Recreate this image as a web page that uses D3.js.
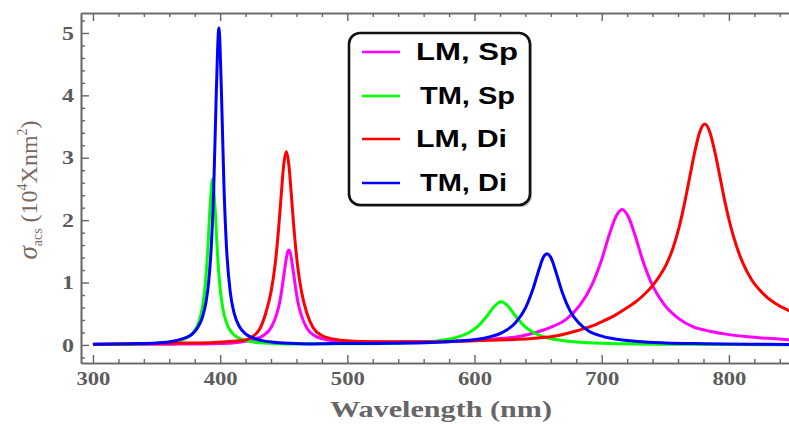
<!DOCTYPE html>
<html>
<head>
<meta charset="utf-8">
<script src="https://cdn.jsdelivr.net/npm/d3@7"></script>
<style>
  html, body { margin: 0; padding: 0; background: #fff; overflow: hidden; }
  svg { display: block; }
</style>
</head>
<body>
<svg id="chart" width="789" height="424"></svg>
<script>
// Scattering cross section spectra, sigma_acs in units of 10^4 nm^2, vs wavelength in nm.

// LM, Sp
const lmSpWavelength = [300, 340, 370, 395, 410, 420, 428, 434, 440, 444, 447, 449, 451, 453, 454, 455, 457, 459, 461, 464, 468, 474, 480, 490, 505, 530, 560, 590, 615, 635, 650, 662, 672, 683, 692, 700, 706, 711, 716, 721, 726, 732, 740, 749, 760, 772, 785, 800, 815, 830, 850];
const lmSpValues     = [0.005, 0.01, 0.013, 0.02, 0.03, 0.057, 0.095, 0.15, 0.275, 0.465, 0.70, 0.96, 1.25, 1.485, 1.52, 1.485, 1.25, 0.96, 0.70, 0.465, 0.275, 0.15, 0.10, 0.066, 0.05, 0.045, 0.05, 0.065, 0.095, 0.135, 0.21, 0.30, 0.41, 0.64, 0.95, 1.37, 1.77, 2.05, 2.17, 2.05, 1.77, 1.37, 0.95, 0.65, 0.43, 0.29, 0.22, 0.165, 0.13, 0.105, 0.08];

// TM, Sp
const tmSpWavelength = [300, 330, 350, 365, 373, 379, 383, 386, 388, 390, 392, 394, 396, 398, 400, 402, 405, 409, 415, 423, 435, 450, 470, 500, 530, 555, 572, 585, 595, 603, 610, 616, 621, 626, 632, 639, 647, 657, 670, 690, 720, 760, 810, 850];
const tmSpValues     = [0.005, 0.012, 0.025, 0.057, 0.107, 0.202, 0.353, 0.596, 0.903, 1.426, 2.187, 2.66, 2.187, 1.426, 0.903, 0.596, 0.353, 0.202, 0.107, 0.057, 0.029, 0.016, 0.017, 0.017, 0.024, 0.04, 0.068, 0.114, 0.19, 0.305, 0.468, 0.628, 0.69, 0.628, 0.468, 0.305, 0.19, 0.114, 0.068, 0.035, 0.018, 0.009, 0.005, 0.003];

// LM, Di
const lmDiWavelength = [300, 340, 370, 395, 410, 420, 426, 431, 436, 440, 443, 446, 448, 450, 452, 454, 456, 458, 461, 464, 468, 473, 480, 490, 505, 530, 560, 590, 620, 635, 650, 666, 681, 692, 701, 710, 718, 726, 733, 740, 746, 751, 756, 761, 765, 769, 773, 777, 781, 785, 789, 793, 797, 801, 806, 811, 818, 826, 836, 846, 850];
const lmDiValues     = [0.01, 0.02, 0.03, 0.04, 0.06, 0.08, 0.14, 0.25, 0.52, 0.85, 1.25, 1.87, 2.40, 2.89, 3.10, 2.89, 2.40, 1.87, 1.25, 0.85, 0.52, 0.28, 0.15, 0.09, 0.06, 0.05, 0.05, 0.06, 0.08, 0.09, 0.11, 0.15, 0.23, 0.30, 0.38, 0.47, 0.57, 0.68, 0.80, 0.95, 1.12, 1.30, 1.55, 1.90, 2.26, 2.67, 3.08, 3.41, 3.54, 3.41, 3.09, 2.69, 2.28, 1.93, 1.58, 1.31, 1.04, 0.84, 0.67, 0.56, 0.53];

// TM, Di
const tmDiWavelength = [300, 330, 350, 365, 372, 378, 382, 386, 389, 391, 393, 395, 397, 399, 401, 403, 405, 408, 411, 415, 420, 426, 433, 442, 455, 470, 490, 520, 550, 575, 595, 610, 622, 632, 640, 646, 651, 654, 657, 660, 664, 669, 675, 682, 690, 700, 712, 728, 750, 780, 815, 850];
const tmDiValues     = [0.01, 0.02, 0.03, 0.068, 0.107, 0.172, 0.267, 0.44, 0.70, 1.016, 1.563, 2.54, 4.06, 5.08, 4.06, 2.54, 1.563, 0.838, 0.508, 0.299, 0.178, 0.109, 0.069, 0.044, 0.026, 0.016, 0.021, 0.022, 0.03, 0.045, 0.074, 0.12, 0.20, 0.35, 0.59, 0.90, 1.23, 1.40, 1.46, 1.40, 1.17, 0.84, 0.55, 0.35, 0.22, 0.14, 0.09, 0.055, 0.032, 0.02, 0.012, 0.008];

const seriesNames  = ["LM, Sp", "TM, Sp", "LM, Di", "TM, Di"];
const seriesColors = ["#ff00ff", "#00ff00", "#ff0000", "#0000ff"];

const xMajorTicks = [300, 400, 500, 600, 700, 800];
const xMinorTicks = [320, 340, 360, 380, 420, 440, 460, 480, 520, 540, 560, 580, 620, 640, 660, 680, 720, 740, 760, 780, 820, 840];
const yMajorTicks = [0, 1, 2, 3, 4, 5];
const yMinorTicks = [-0.2, 0.2, 0.4, 0.6, 0.8, 1.2, 1.4, 1.6, 1.8, 2.2, 2.4, 2.6, 2.8, 3.2, 3.4, 3.6, 3.8, 4.2, 4.4, 4.6, 4.8, 5.2];

const series = [
  { name: seriesNames[0], color: seriesColors[0], wl: lmSpWavelength, v: lmSpValues },
  { name: seriesNames[1], color: seriesColors[1], wl: tmSpWavelength, v: tmSpValues },
  { name: seriesNames[2], color: seriesColors[2], wl: lmDiWavelength, v: lmDiValues },
  { name: seriesNames[3], color: seriesColors[3], wl: tmDiWavelength, v: tmDiValues }
];

// Frame geometry (the right edge of the frame lies just past the page)
const frame = { left: 81, right: 806, top: 13, bottom: 363 };

const x = d3.scaleLinear().domain([290.6, 860.6]).range([frame.left, frame.right]);
const y = d3.scaleLinear().domain([-0.29, 5.32]).range([frame.bottom, frame.top]);

const svg = d3.select("#chart");
const frameColor = "#666";
const labelColor = "#5c5c5c";

svg.append("defs").append("clipPath").attr("id", "plotClip")
  .append("rect")
  .attr("x", frame.left).attr("y", frame.top)
  .attr("width", frame.right - frame.left).attr("height", frame.bottom - frame.top);

// Curves
const line = d3.line()
  .x(d => x(d[0]))
  .y(d => y(d[1]))
  .curve(d3.curveMonotoneX);

svg.append("g").attr("clip-path", "url(#plotClip)")
  .selectAll("path")
  .data(series)
  .join("path")
  .attr("d", s => line(s.wl.map((w, i) => [w, s.v[i]])))
  .attr("fill", "none")
  .attr("stroke", s => s.color)
  .attr("stroke-width", 3)
  .attr("stroke-linejoin", "round");

// Axes: ticks point into the frame
function styleAxis(g) {
  g.selectAll(".domain").attr("stroke", frameColor).attr("stroke-width", 1.6);
  g.selectAll(".tick line").attr("stroke", frameColor).attr("stroke-width", 1.4);
  g.selectAll("text")
    .attr("fill", labelColor)
    .attr("font-family", "'Liberation Serif', 'DejaVu Serif', serif")
    .attr("font-weight", "bold")
    .attr("font-size", 19);
}

const bottomAxis = svg.append("g")
  .attr("transform", `translate(0,${frame.bottom})`)
  .call(d3.axisBottom(x).tickValues(xMajorTicks).tickSizeInner(-8).tickSizeOuter(0).tickPadding(9).tickFormat(d3.format("d")))
  .call(styleAxis);
bottomAxis.selectAll("text").attr("textLength", 34).attr("lengthAdjust", "spacingAndGlyphs");

svg.append("g")
  .attr("transform", `translate(0,${frame.bottom})`)
  .call(d3.axisBottom(x).tickValues(xMinorTicks).tickSizeInner(-4).tickSizeOuter(0).tickFormat(""))
  .call(styleAxis);

svg.append("g")
  .attr("transform", `translate(0,${frame.top})`)
  .call(d3.axisTop(x).tickValues(xMajorTicks).tickSizeInner(-8).tickSizeOuter(0).tickFormat(""))
  .call(styleAxis);

svg.append("g")
  .attr("transform", `translate(0,${frame.top})`)
  .call(d3.axisTop(x).tickValues(xMinorTicks).tickSizeInner(-4).tickSizeOuter(0).tickFormat(""))
  .call(styleAxis);

const leftAxis = svg.append("g")
  .attr("transform", `translate(${frame.left},0)`)
  .call(d3.axisLeft(y).tickValues(yMajorTicks).tickSizeInner(-8).tickSizeOuter(0).tickPadding(7).tickFormat(d3.format("d")))
  .call(styleAxis);
leftAxis.selectAll("text").attr("textLength", 12).attr("lengthAdjust", "spacingAndGlyphs");

svg.append("g")
  .attr("transform", `translate(${frame.left},0)`)
  .call(d3.axisLeft(y).tickValues(yMinorTicks).tickSizeInner(-4).tickSizeOuter(0).tickFormat(""))
  .call(styleAxis);

// Axis titles
svg.append("text")
  .attr("x", 441).attr("y", 417)
  .attr("text-anchor", "middle")
  .attr("fill", "#666")
  .attr("font-family", "'Liberation Serif', 'DejaVu Serif', serif")
  .attr("font-weight", "bold")
  .attr("font-size", 23)
  .attr("textLength", 222)
  .attr("lengthAdjust", "spacingAndGlyphs")
  .text("Wavelength (nm)");

const yTitle = svg.append("text")
  .attr("transform", "translate(37,190) rotate(-90)")
  .attr("text-anchor", "middle")
  .attr("fill", "#7a675f")
  .attr("font-family", "'Liberation Serif', 'DejaVu Serif', serif")
  .attr("font-size", 24);
yTitle.append("tspan").attr("font-style", "italic").attr("font-size", 27).text("σ");
yTitle.append("tspan").attr("font-size", 14).attr("dy", 5).text("acs");
yTitle.append("tspan").attr("dy", -5).text(" (10");
yTitle.append("tspan").attr("font-size", 14).attr("dy", -10).text("4");
yTitle.append("tspan").attr("dy", 10).text("Xnm");
yTitle.append("tspan").attr("font-size", 14).attr("dy", -10).text("2");
yTitle.append("tspan").attr("dy", 10).text(")");

// Legend
const legend = svg.append("g");
legend.append("rect")
  .attr("x", 351).attr("y", 35).attr("width", 181).attr("height", 172).attr("rx", 11)
  .attr("fill", "#9a9a9a").attr("opacity", 0.6);
legend.append("rect")
  .attr("x", 349).attr("y", 33).attr("width", 181).attr("height", 172).attr("rx", 11)
  .attr("fill", "#fff").attr("stroke", "#111").attr("stroke-width", 2.6);

const legendRowY = [52, 96, 139, 183];
const legendTextX = [416, 420, 416, 420];
const legendTextW = [102, 95, 91, 87];

const rows = legend.selectAll("g.row")
  .data(series)
  .join("g").attr("class", "row");
rows.append("line")
  .attr("x1", 362).attr("x2", 400)
  .attr("y1", (d, i) => legendRowY[i]).attr("y2", (d, i) => legendRowY[i])
  .attr("stroke", d => d.color).attr("stroke-width", 2.5);
rows.append("text")
  .attr("x", (d, i) => legendTextX[i])
  .attr("y", (d, i) => legendRowY[i] + 8)
  .attr("font-family", "'Liberation Sans', Arial, sans-serif")
  .attr("font-weight", "bold")
  .attr("font-size", 23)
  .attr("fill", "#000")
  .attr("textLength", (d, i) => legendTextW[i])
  .attr("lengthAdjust", "spacingAndGlyphs")
  .text(d => d.name);
</script>
</body>
</html>
